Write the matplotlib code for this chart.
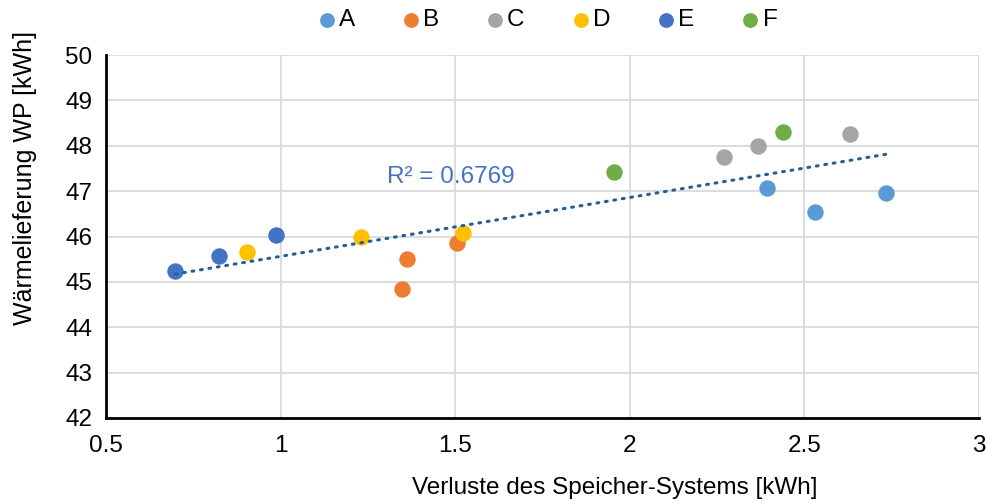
import numpy as np
import matplotlib
matplotlib.use('Agg')
import matplotlib.pyplot as plt

plt.rcParams['font.family'] = ['Liberation Sans', 'DejaVu Sans']

groups = ['A', 'B', 'C', 'D', 'E', 'F']
colors = ['#5B9BD5', '#ED7D31', '#A5A5A5', '#FFC000', '#4472C4', '#70AD47']

x_vals = {
    'A': [2.393, 2.530, 2.734],
    'B': [1.348, 1.362, 1.505],
    'C': [2.270, 2.367, 2.631],
    'D': [0.904, 1.230, 1.522],
    'E': [0.698, 0.824, 0.987],
    'F': [1.955, 2.439],
}
y_vals = {
    'A': [47.07, 46.54, 46.96],
    'B': [44.84, 45.50, 45.85],
    'C': [47.75, 47.99, 48.26],
    'D': [45.66, 45.99, 46.07],
    'E': [45.24, 45.57, 46.03],
    'F': [47.42, 48.30],
}
r2_text = 'R² = 0.6769'

fs = 17.5

fig = plt.figure(figsize=(9.87, 5.03), dpi=100)
ax = fig.add_axes([106/987, 85/503, (979-106)/987, (418-55)/503])

for g, c in zip(groups, colors):
    ax.scatter(x_vals[g], y_vals[g], s=140, color=c, label=g, zorder=3, linewidths=0)

# linear trend over all points
all_x = np.concatenate([x_vals[g] for g in groups])
all_y = np.concatenate([y_vals[g] for g in groups])
k, d = np.polyfit(all_x, all_y, 1)
xt = np.array([all_x.min(), all_x.max()])
ax.plot(xt, k*xt + d, color='#255E91', lw=2.2, linestyle=(0, (0.6, 2.2)),
        dash_capstyle='round', zorder=4)
ax.text(1.305, 47.32, r2_text, color='#4472C4', fontsize=fs, ha='left', va='center')

ax.set_xlim(0.5, 3)
ax.set_ylim(42, 50)
ax.set_xticks([0.5, 1, 1.5, 2, 2.5, 3])
ax.set_xticklabels(['0.5', '1', '1.5', '2', '2.5', '3'])
ax.set_yticks(range(42, 51))
ax.grid(True, color='#D9D9D9', lw=1.3)
ax.set_axisbelow(True)
for s in ['top', 'right']:
    ax.spines[s].set_visible(False)
for s in ['left', 'bottom']:
    ax.spines[s].set_linewidth(2)
    ax.spines[s].set_color('black')
ax.tick_params(axis='x', length=0, labelsize=fs, pad=12)
ax.tick_params(axis='y', length=0, labelsize=fs, pad=10)

ax.set_ylabel('Wärmelieferung WP [kWh]', fontsize=18)
ax.yaxis.set_label_coords(-(106-25)/(979-106), (418-178)/(418-55))
ax.set_xlabel('Verluste des Speicher-Systems [kWh]', fontsize=fs)
ax.xaxis.set_label_coords((615-106)/(979-106), -(488-418)/(418-55))
ax.xaxis.label.set_va('center')
ax.yaxis.label.set_va('center')

fig.legend(loc='center', bbox_to_anchor=(546/987, 1-20/503), ncol=6, frameon=False,
           fontsize=fs, handletextpad=0.0, handlelength=1.0, columnspacing=1.8,
           markerscale=0.9)

fig.savefig('out.png', dpi=100)
